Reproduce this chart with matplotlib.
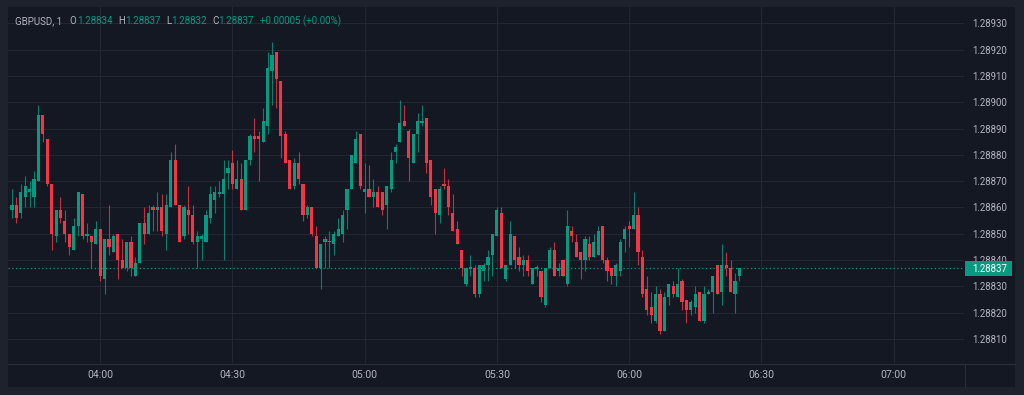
import matplotlib
matplotlib.use('Agg')
import matplotlib.pyplot as plt
import matplotlib.dates as mdates
from matplotlib.patches import Rectangle
from matplotlib.lines import Line2D
import numpy as np
import pandas as pd

plt.rcParams['font.family'] = ['Roboto', 'DejaVu Sans']

W, H = 1024, 395
BG_FRAME = '#1e222d'
BG_CHART = '#141823'
GRID = '#232733'
SEP = '#2a2e39'
TXT = '#b2b5be'
UP = '#089981'
DOWN = '#f23645'

symbol = 'GBPUSD, 1'
start_time = '2024-01-01 03:40'

opens = [
    1.28859, 1.28861, 1.28858, 1.28864, 1.28866, 1.28864, 1.28870, 1.28895, 1.28886, 1.28869,
    1.28849, 1.28859, 1.28855, 1.28850, 1.28844, 1.28853, 1.28865, 1.28849, 1.28849, 1.28846,
    1.28852, 1.28833, 1.28848, 1.28843, 1.28850, 1.28840, 1.28837, 1.28847, 1.28834, 1.28839,
    1.28854, 1.28850, 1.28860, 1.28859, 1.28860, 1.28850, 1.28860, 1.28878, 1.28861, 1.28849,
    1.28859, 1.28857, 1.28847, 1.28848, 1.28847, 1.28856, 1.28863, 1.28865, 1.28865, 1.28873,
    1.28877, 1.28867, 1.28871, 1.28859, 1.28878, 1.28887, 1.28887, 1.28885, 1.28891, 1.28912,
    1.28919, 1.28908, 1.28888, 1.28878, 1.28868, 1.28877, 1.28869, 1.28857, 1.28860, 1.28849,
    1.28837, 1.28847, 1.28847, 1.28846, 1.28849, 1.28850, 1.28859, 1.28867, 1.28877, 1.28888,
    1.28866, 1.28867, 1.28864, 1.28866, 1.28866, 1.28861, 1.28867, 1.28881, 1.28885, 1.28893,
    1.28889, 1.28877, 1.28888, 1.28892, 1.28894, 1.28878, 1.28867, 1.28857, 1.28869, 1.28868,
    1.28858, 1.28852, 1.28844, 1.28831, 1.28837, 1.28837, 1.28827, 1.28836, 1.28838, 1.28842,
    1.28849, 1.28858, 1.28833, 1.28838, 1.28849, 1.28841, 1.28838, 1.28840, 1.28831, 1.28837,
    1.28836, 1.28823, 1.28837, 1.28844, 1.28836, 1.28840, 1.28831, 1.28851, 1.28847, 1.28843,
    1.28840, 1.28846, 1.28841, 1.28842, 1.28853, 1.28840, 1.28837, 1.28834, 1.28836, 1.28848,
    1.28853, 1.28852, 1.28857, 1.28841, 1.28829, 1.28822, 1.28817, 1.28827, 1.28813, 1.28826,
    1.28830, 1.28826, 1.28832, 1.28825, 1.28821, 1.28822, 1.28828, 1.28817, 1.28827, 1.28828,
    1.28838, 1.28828, 1.28838, 1.28837, 1.28827, 1.28834]

highs = [
    1.28867, 1.28864, 1.28869, 1.28872, 1.28870, 1.28874, 1.28899, 1.28895, 1.28886, 1.28869,
    1.28859, 1.28864, 1.28859, 1.28850, 1.28856, 1.28866, 1.28865, 1.28854, 1.28849, 1.28855,
    1.28852, 1.28848, 1.28861, 1.28850, 1.28850, 1.28848, 1.28847, 1.28849, 1.28841, 1.28854,
    1.28860, 1.28861, 1.28861, 1.28866, 1.28865, 1.28865, 1.28881, 1.28884, 1.28861, 1.28861,
    1.28868, 1.28861, 1.28851, 1.28850, 1.28859, 1.28868, 1.28868, 1.28870, 1.28878, 1.28878,
    1.28882, 1.28878, 1.28877, 1.28878, 1.28888, 1.28894, 1.28889, 1.28898, 1.28919, 1.28923,
    1.28919, 1.28908, 1.28889, 1.28878, 1.28879, 1.28881, 1.28869, 1.28861, 1.28860, 1.28853,
    1.28846, 1.28849, 1.28851, 1.28851, 1.28856, 1.28859, 1.28867, 1.28880, 1.28889, 1.28888,
    1.28877, 1.28876, 1.28871, 1.28868, 1.28866, 1.28868, 1.28881, 1.28884, 1.28901, 1.28899,
    1.28890, 1.28888, 1.28896, 1.28899, 1.28894, 1.28878, 1.28867, 1.28868, 1.28875, 1.28871,
    1.28865, 1.28855, 1.28844, 1.28837, 1.28842, 1.28838, 1.28838, 1.28839, 1.28844, 1.28850,
    1.28860, 1.28860, 1.28838, 1.28855, 1.28849, 1.28845, 1.28842, 1.28842, 1.28837, 1.28838,
    1.28836, 1.28837, 1.28845, 1.28847, 1.28839, 1.28840, 1.28859, 1.28853, 1.28850, 1.28843,
    1.28849, 1.28849, 1.28850, 1.28853, 1.28853, 1.28841, 1.28837, 1.28839, 1.28848, 1.28853,
    1.28855, 1.28866, 1.28860, 1.28844, 1.28834, 1.28828, 1.28830, 1.28829, 1.28828, 1.28831,
    1.28832, 1.28837, 1.28833, 1.28825, 1.28825, 1.28830, 1.28828, 1.28830, 1.28829, 1.28834,
    1.28838, 1.28846, 1.28843, 1.28840, 1.28835, 1.28837]

lows = [
    1.28856, 1.28854, 1.28856, 1.28860, 1.28860, 1.28860, 1.28870, 1.28885, 1.28868, 1.28844,
    1.28847, 1.28854, 1.28847, 1.28842, 1.28844, 1.28849, 1.28848, 1.28847, 1.28837, 1.28846,
    1.28832, 1.28827, 1.28842, 1.28843, 1.28833, 1.28837, 1.28836, 1.28834, 1.28834, 1.28839,
    1.28846, 1.28850, 1.28851, 1.28851, 1.28849, 1.28844, 1.28860, 1.28861, 1.28847, 1.28848,
    1.28850, 1.28846, 1.28837, 1.28840, 1.28847, 1.28854, 1.28858, 1.28864, 1.28840, 1.28867,
    1.28867, 1.28867, 1.28859, 1.28859, 1.28876, 1.28881, 1.28870, 1.28885, 1.28888, 1.28899,
    1.28898, 1.28879, 1.28877, 1.28867, 1.28867, 1.28869, 1.28855, 1.28856, 1.28849, 1.28837,
    1.28829, 1.28837, 1.28837, 1.28842, 1.28849, 1.28847, 1.28852, 1.28867, 1.28877, 1.28867,
    1.28858, 1.28864, 1.28860, 1.28860, 1.28857, 1.28852, 1.28866, 1.28877, 1.28885, 1.28891,
    1.28870, 1.28877, 1.28881, 1.28891, 1.28873, 1.28861, 1.28850, 1.28854, 1.28867, 1.28857,
    1.28851, 1.28846, 1.28834, 1.28830, 1.28834, 1.28826, 1.28826, 1.28832, 1.28832, 1.28834,
    1.28849, 1.28837, 1.28832, 1.28838, 1.28837, 1.28836, 1.28834, 1.28834, 1.28831, 1.28834,
    1.28824, 1.28822, 1.28837, 1.28834, 1.28834, 1.28834, 1.28830, 1.28847, 1.28841, 1.28833,
    1.28836, 1.28840, 1.28841, 1.28842, 1.28839, 1.28832, 1.28831, 1.28830, 1.28834, 1.28843,
    1.28845, 1.28852, 1.28838, 1.28826, 1.28819, 1.28816, 1.28816, 1.28812, 1.28813, 1.28823,
    1.28826, 1.28826, 1.28821, 1.28816, 1.28819, 1.28820, 1.28817, 1.28816, 1.28827, 1.28820,
    1.28827, 1.28823, 1.28834, 1.28828, 1.28820, 1.28832]

closes = [
    1.28861, 1.28856, 1.28866, 1.28868, 1.28867, 1.28871, 1.28895, 1.28888, 1.28869, 1.28850,
    1.28859, 1.28856, 1.28850, 1.28845, 1.28853, 1.28866, 1.28849, 1.28850, 1.28847, 1.28852,
    1.28834, 1.28848, 1.28845, 1.28849, 1.28840, 1.28837, 1.28847, 1.28837, 1.28839, 1.28854,
    1.28850, 1.28858, 1.28859, 1.28860, 1.28851, 1.28861, 1.28878, 1.28861, 1.28847, 1.28860,
    1.28857, 1.28847, 1.28849, 1.28849, 1.28857, 1.28865, 1.28866, 1.28866, 1.28871, 1.28875,
    1.28869, 1.28871, 1.28859, 1.28878, 1.28887, 1.28886, 1.28886, 1.28893, 1.28913, 1.28918,
    1.28909, 1.28887, 1.28877, 1.28867, 1.28877, 1.28871, 1.28857, 1.28860, 1.28850, 1.28837,
    1.28846, 1.28848, 1.28847, 1.28850, 1.28852, 1.28857, 1.28867, 1.28880, 1.28886, 1.28868,
    1.28867, 1.28864, 1.28866, 1.28860, 1.28859, 1.28868, 1.28878, 1.28883, 1.28892, 1.28891,
    1.28879, 1.28888, 1.28893, 1.28893, 1.28877, 1.28864, 1.28858, 1.28867, 1.28868, 1.28860,
    1.28851, 1.28846, 1.28837, 1.28837, 1.28837, 1.28827, 1.28838, 1.28838, 1.28841, 1.28850,
    1.28859, 1.28837, 1.28838, 1.28850, 1.28840, 1.28838, 1.28840, 1.28836, 1.28837, 1.28837,
    1.28826, 1.28837, 1.28844, 1.28834, 1.28837, 1.28834, 1.28853, 1.28849, 1.28841, 1.28840,
    1.28848, 1.28841, 1.28847, 1.28851, 1.28840, 1.28836, 1.28834, 1.28838, 1.28847, 1.28852,
    1.28852, 1.28857, 1.28843, 1.28827, 1.28821, 1.28819, 1.28827, 1.28813, 1.28826, 1.28831,
    1.28827, 1.28831, 1.28824, 1.28821, 1.28824, 1.28827, 1.28817, 1.28827, 1.28828, 1.28834,
    1.28827, 1.28838, 1.28837, 1.28828, 1.28832, 1.28837]

time_tick_labels = ['04:00', '04:30', '05:00', '05:30', '06:00', '06:30', '07:00']
price_ticks = [1.28810, 1.28820, 1.28830, 1.28840, 1.28850, 1.28860, 1.28870,
               1.28880, 1.28890, 1.28900, 1.28910, 1.28920, 1.28930]

o = np.array(opens); h = np.array(highs); l = np.array(lows); c = np.array(closes)
times = pd.date_range(start_time, periods=len(opens), freq='min')
x = mdates.date2num(times)
minute = 1.0 / 1440.0

fig = plt.figure(figsize=(W / 100, H / 100), dpi=100, facecolor=BG_FRAME)
fig.patches.append(Rectangle((8 / W, 1 - 387 / H), (1015 - 8) / W, (387 - 7) / H,
                             transform=fig.transFigure, facecolor=BG_CHART,
                             edgecolor='none', zorder=-2))

ax = fig.add_axes([8 / W, 1 - 363 / H, (964 - 8) / W, (363 - 7) / H])
ax.set_facecolor(BG_CHART)
ax.set_xlim(x[0] - 0.91 * minute, x[0] + 215.97 * minute)
ax.set_ylim(1.288009, 1.289362)

colors = [UP if cc >= oo else DOWN for oo, cc in zip(o, c)]
ax.vlines(x, l, h, colors=colors, linewidth=0.8, alpha=0.8, zorder=3)
body_lo = np.minimum(o, c)
body_h = np.abs(c - o)
min_h = 0.0000045
adj = np.where(body_h < min_h, (min_h - body_h) / 2, 0)
ax.bar(x, np.maximum(body_h, min_h), width=0.72 * minute, bottom=body_lo - adj,
       color=colors, linewidth=0, zorder=4)

last_price = closes[-1]
ax.axhline(last_price, color=UP, linewidth=0.9, linestyle=(0, (1.0, 2.0)), zorder=2)

tick_pos = mdates.date2num(pd.to_datetime(['2024-01-01 ' + t for t in time_tick_labels]))
ax.set_xticks(tick_pos)
ax.set_xticklabels(time_tick_labels)
ax.tick_params(axis='x', length=0, pad=5.0, labelsize=7.6, labelcolor=TXT)
ax.yaxis.tick_right()
ax.set_yticks(price_ticks)
ax.set_yticklabels([f'{p:.5f}' for p in price_ticks])
ax.tick_params(axis='y', length=0, pad=5.6, labelsize=6.9, labelcolor=TXT)
ax.grid(True, color=GRID, linewidth=0.8, zorder=0)
ax.set_axisbelow(True)
for s in ax.spines.values():
    s.set_visible(False)

# separators
fig.add_artist(Line2D([8 / W, 1015 / W], [1 - 363.5 / H] * 2, color=SEP, linewidth=0.8))
fig.add_artist(Line2D([965 / W] * 2, [1 - 363.5 / H, 1 - 387 / H], color=SEP, linewidth=0.8))

# last price label
fig.patches.append(Rectangle((965 / W, 1 - 276 / H), 47 / W, 15 / H, transform=fig.transFigure,
                             facecolor=UP, edgecolor='none', zorder=5))
fig.text(972 / W, 1 - 268.5 / H, f'{last_price:.5f}', color='white', fontsize=6.9,
         va='center', ha='left', zorder=6)

# header legend
chg = closes[-1] - closes[-2]
pct = chg / closes[-2] * 100
parts = [
    (symbol, 15, TXT),
    ('O', 69, TXT), (f'{opens[-1]:.5f}', 77, UP),
    ('H', 118, TXT), (f'{highs[-1]:.5f}', 125, UP),
    ('L', 166, TXT), (f'{lows[-1]:.5f}', 171.5, UP),
    ('C', 212, TXT), (f'{closes[-1]:.5f}', 218.5, UP),
    (f'{chg:+.5f} ({pct:+.2f}%)', 260, UP),
]
for txt, px, col in parts:
    fig.text(px / W, 1 - 21 / H, txt, color=col, fontsize=7.0, va='center', ha='left')

fig.savefig('out.png', dpi=100, facecolor=BG_FRAME)
